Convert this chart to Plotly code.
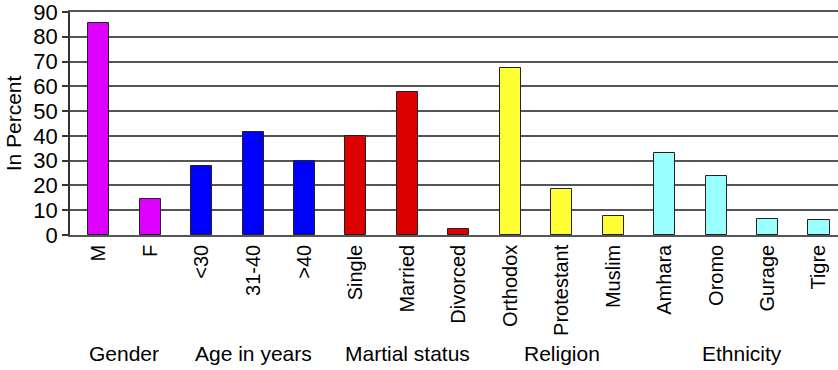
import plotly.graph_objects as go

categories = ["M", "F", "<30", "31-40", ">40", "Single", "Married", "Divorced",
              "Orthodox", "Protestant", "Muslim", "Amhara", "Oromo", "Gurage", "Tigre"]
percent = [85.5, 14.5, 27.8, 41.7, 30.0, 40.0, 57.6, 2.3,
           67.6, 18.5, 7.6, 32.9, 23.8, 6.6, 6.0]
groups = ["Gender", "Age in years", "Martial status", "Religion", "Ethnicity"]
group_sizes = [2, 3, 3, 3, 4]
group_colors = ["#DD00FF", "#0000FF", "#DD0000", "#FFFF33", "#99FFFF"]
y_ticks = [0, 10, 20, 30, 40, 50, 60, 70, 80, 90]

FONT = "Arial, Liberation Sans, sans-serif"

bar_colors = []
group_centers = []
start = 0
for size, color in zip(group_sizes, group_colors):
    bar_colors += [color] * size
    group_centers.append(start + (size - 1) / 2)
    start += size

fig = go.Figure(go.Bar(
    x=list(range(len(categories))),
    y=percent,
    width=0.41,
    marker=dict(color=bar_colors, line=dict(color="#222222", width=1)),
))

for name, cx in zip(groups, group_centers):
    fig.add_annotation(x=cx, y=-0.53, xref="x", yref="paper", text=name,
                       showarrow=False, yanchor="middle",
                       font=dict(family=FONT, size=21, color="#000000"))

fig.update_layout(
    width=838, height=370,
    margin=dict(l=70, r=0, t=12, b=135),
    plot_bgcolor="#FFFFFF", paper_bgcolor="#FFFFFF",
    showlegend=False,
    font=dict(family=FONT, size=20, color="#000000"),
    bargap=0,
)
fig.update_xaxes(
    tickmode="array", tickvals=list(range(len(categories))), ticktext=categories,
    tickangle=-90, range=[-0.558, 14.37], showgrid=False,
    ticks="", ticklen=0, tickfont=dict(family=FONT, size=20),
    showline=True, mirror=True, linecolor="#555555", linewidth=1.5,
)
fig.update_yaxes(
    range=[0, 90], tickmode="array", tickvals=y_ticks,
    showgrid=True, gridcolor="#555555", gridwidth=1.5,
    showline=True, linecolor="#333333", linewidth=1.5,
    ticks="outside", ticklen=6, tickcolor="#333333", tickwidth=1.5,
    tickfont=dict(family=FONT, size=22),
    ticklabeloverflow="allow",
    zeroline=False,
    title=dict(text="In Percent", font=dict(family=FONT, size=21), standoff=6),
)

fig.write_html("out.html")
